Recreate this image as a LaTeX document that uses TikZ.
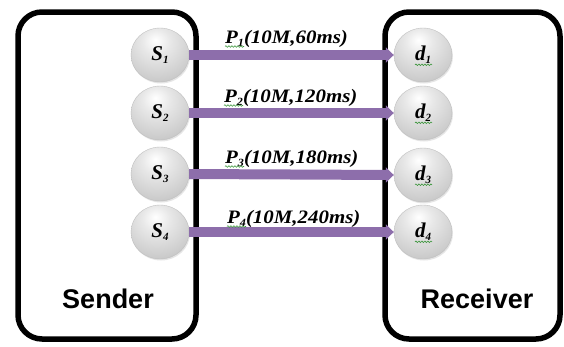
\documentclass[tikz,border=0pt]{standalone}
\usepackage{fontspec}
\setmainfont{Liberation Serif}
\newfontfamily\labelsans{Liberation Sans}
\newfontfamily\widelabel[FakeStretch=1.1]{Liberation Serif}
\usetikzlibrary{arrows.meta,shadows,decorations.pathmorphing,shapes.geometric}
\definecolor{pathpurple}{RGB}{141,110,171}
\definecolor{squiggreen}{RGB}{60,150,60}
\pgfdeclareradialshading{softball}{\pgfpoint{-4bp}{14bp}}{%
  color(0bp)=(white); color(12bp)=(black!9); color(32bp)=(black!20);
  color(50bp)=(black!33); color(62bp)=(black!48); color(100bp)=(black!48)}
\newcommand\subidx[1]{{\fontsize{11}{11}\selectfont\raisebox{-3pt}{#1}}}
\tikzset{
  hostbox/.style={draw=black,line width=5.5pt,rounded corners=24pt,fill=white,
    drop shadow={shadow xshift=2pt,shadow yshift=-2pt,opacity=0.25}},
  endpoint/.style={ellipse,minimum width=58pt,minimum height=54pt,inner sep=0pt,
    shading=softball,draw=black!25,line width=0.4pt,
    drop shadow={shadow xshift=1pt,shadow yshift=-1.5pt,opacity=0.2},
    font=\fontsize{21}{21}\selectfont\bfseries\itshape},
  flow/.style={draw=pathpurple,line width=10pt,-{Triangle[width=15pt,length=8pt]}},
  pathlabel/.style={anchor=base west,inner sep=0pt,font=\widelabel\fontsize{19}{19}\selectfont\bfseries\itshape},
  hostlabel/.style={anchor=base,inner sep=0pt,font=\labelsans\fontsize{27}{27}\selectfont\bfseries},
  squiggle/.style={draw=squiggreen,line width=0.6pt,decorate,
    decoration={snake,amplitude=0.8pt,segment length=3pt}}
}
\begin{document}
\begin{tikzpicture}[x=1pt,y=-1pt]
\useasboundingbox (0,0) rectangle (564,346);
\node[hostbox,minimum width=178pt,minimum height=327pt] (sender) at (107,175.5) {};
\node[hostbox,minimum width=175pt,minimum height=327pt] (receiver) at (472.5,175.5) {};
\node[hostlabel] (sendertxt) at (108,308) {Sender};
\node[hostlabel] (receivertxt) at (477,308) {Receiver};
% sources
\node[endpoint] (s1) at (160,55) {S\subidx{1}};
\node[endpoint] (s2) at (160,113) {S\subidx{2}};
\node[endpoint] (s3) at (160,174) {S\subidx{3}};
\node[endpoint] (s4) at (160,232) {S\subidx{4}};
% destinations
\node[endpoint] (d1) at (423,55) {d\subidx{1}};
\node[endpoint] (d2) at (423,113) {d\subidx{2}};
\node[endpoint] (d3) at (423,175) {d\subidx{3}};
\node[endpoint] (d4) at (423,232) {d\subidx{4}};
\foreach \n in {d1,d2,d3,d4}
  \draw[squiggle] ([xshift=-8pt,yshift=-4pt]\n.base) -- ([xshift=9pt,yshift=-4pt]\n.base);
% flows
\draw[flow] (s1.east) -- (d1.west);
\draw[flow] (s2.east) -- (d2.west);
\draw[flow] (s3.east) -- (d3.west);
\draw[flow] (s4.east) -- (d4.west);
% labels
\node[pathlabel] (p1) at (225,43) {P\subidx{1}(10M,60ms)};
\node[pathlabel] (p2) at (224,102) {P\subidx{2}(10M,120ms)};
\node[pathlabel] (p3) at (225,163) {P\subidx{3}(10M,180ms)};
\node[pathlabel] (p4) at (227,223) {P\subidx{4}(10M,240ms)};
\foreach \n in {p1,p2,p3,p4}
  \draw[squiggle] ([yshift=-3.5pt]\n.base west) -- ([xshift=19pt,yshift=-3.5pt]\n.base west);
\end{tikzpicture}
\end{document}
